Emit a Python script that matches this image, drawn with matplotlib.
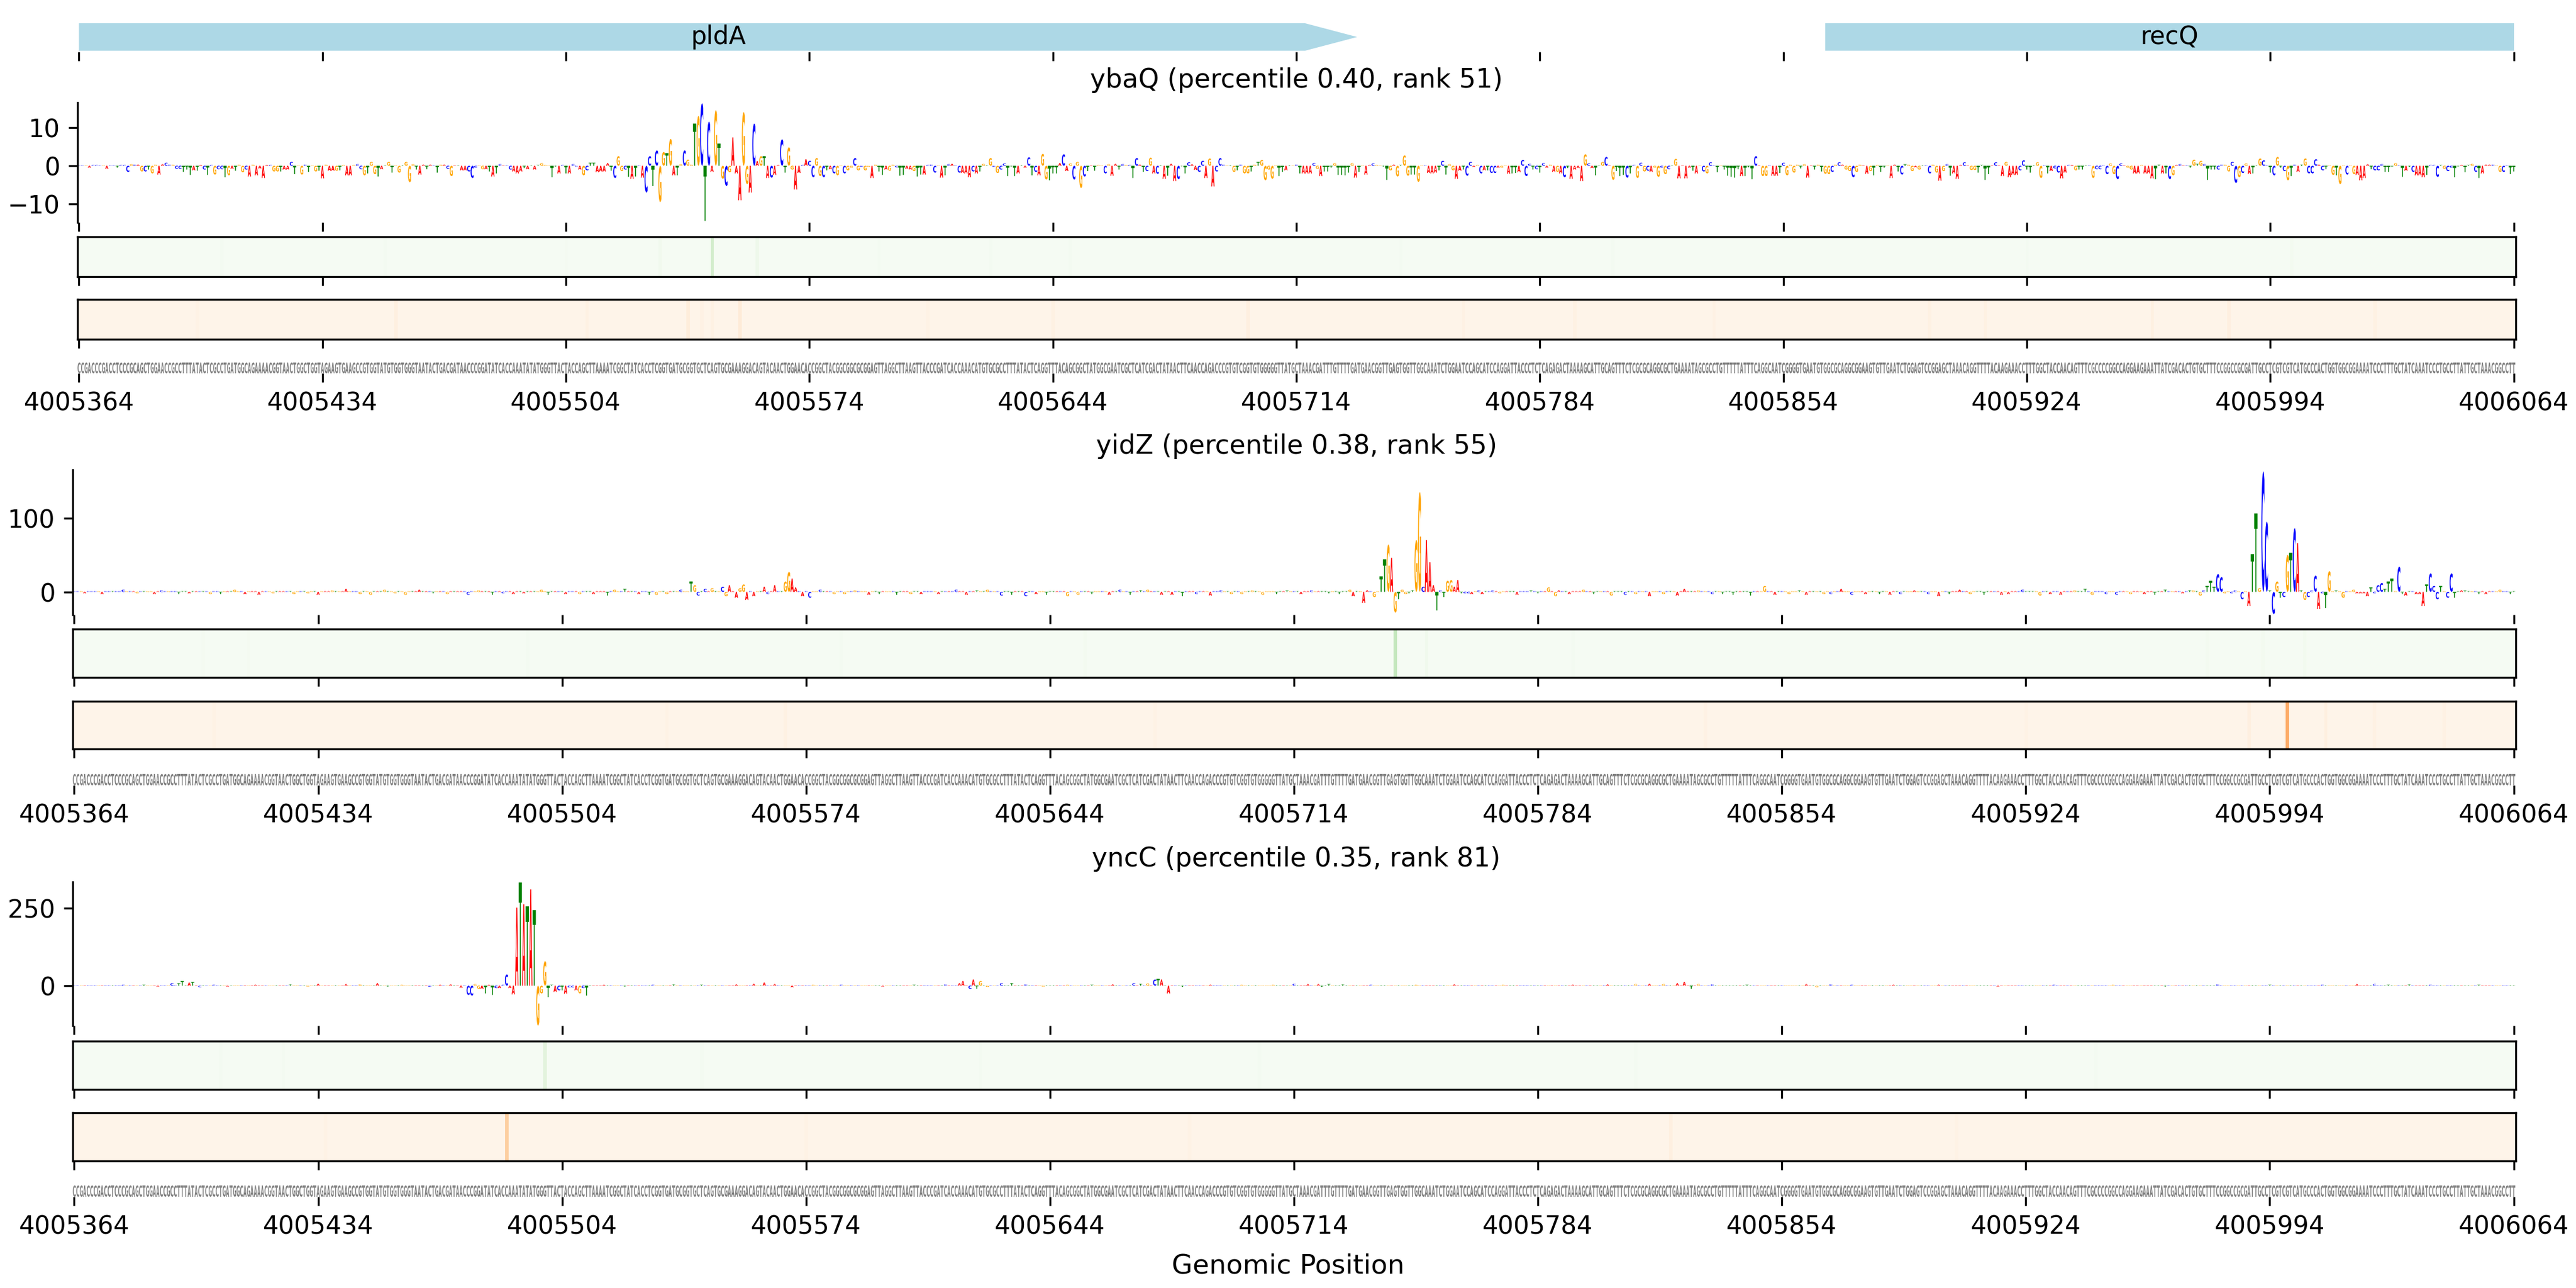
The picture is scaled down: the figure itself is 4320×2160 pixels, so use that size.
import numpy as np
import matplotlib
matplotlib.use("Agg")
import matplotlib.pyplot as plt
from matplotlib.textpath import TextPath
from matplotlib.path import Path
from matplotlib.patches import PathPatch, Polygon, Rectangle
from matplotlib.font_manager import FontProperties

START = 4005364
tick_pos = [4005364, 4005434, 4005504, 4005574, 4005644, 4005714, 4005784, 4005854, 4005924, 4005994, 4006064]
titles = ["ybaQ (percentile 0.40, rank 51)", "yidZ (percentile 0.38, rank 55)", "yncC (percentile 0.35, rank 81)"]

sequence = "".join([
    "CCGACCCGACCTCCCGCAGCTGGAACCGCCTTTATACTCGCCTGATGGCAGAAAACGGTAACTGGCTGGTAGAAGTGAAGCCGTGGTATGTGGTGGGTAATACTGACGATAACCCGGATATCACCAAATATATGGGTTACTACCAGCTTA",
    "AAATCGGCTATCACCTCGGTGATGCGGTGCTCAGTGCGAAAGGACAGTACAACTGGAACACCGGCTACGGCGGCGCGGAGTTAGGCTTAAGTTA",
    "CCCGATCACCAAACATGTGCGCCTTTATACTCAGGTTTACAGCGGCTATGGCGAATCGCTCATCGACTATAACTTCAACCAGACCCGTGTCGGT",
    "GTGGGGGTTATGCTAAACGATTTGTTTTGATGAACGGTTGAGTGGTTGGCAAATCTGGAATCCAGCATCCAGGATTACCCTCTCAGAGACTAAA",
    "AGCATTGCAGTTTCTCGCGCAGGCGCTGAAAATAGCGCCTGTTTTTATTTCAGGCAATCGGGGTGAATGTGGCGCAGGCGGAAGTGTTGAATCT",
    "GGAGTCCGGAGCTAAACAGGTTTTACAAGAAACCTTTGGCTACCAACAGTTTCGCCCCGGCCAGGAAGAAATTATCGACACTGTGCTT",
    "TCCGGCCGCGATTGCCTCGTCGTCATGCCCACTGGTGGCGGAAAATCCCTTTGCTATCAAATCCCTGCCTTATTGCTAAACGGCCTT",
])

ybaQ_scores = [
 .1,.1,.1,-.5,.2,.2,.1,.1,-.8,.1,
 .1,-.5,.2,.2,-1.6,.4,.3,.3,-1.5,-1.5,
 -1,-2,.3,-2.3,.4,.8,.3,.3,-.8,-.8,
 -1.6,-1,-2.4,-1.2,-1.3,.2,-1,-2.4,.2,-2.3,
 -.9,-.9,-3,-2.5,-.8,-1.3,.3,-1.7,-1,-2.8,
 .3,-2.5,-.7,-3.2,.2,.2,-1.5,-1.5,-1.5,-1,
 -1,1,-2.2,.1,-2.3,.3,-1.6,.1,-1.5,-1.3,
 -3.3,.3,-1.3,-1.3,-1.3,-1.2,.2,-2.5,-2.5,.2,
 .4,-.9,-2.5,-2,1,-2.2,-2.8,-.9,.1,1,
 -1.8,.1,-1.8,.1,1,-4.3,.4,-1,-2.3,.3,
 -.9,.3,.1,-1.8,.3,.3,-.8,-2.7,.1,.1,
 -1.2,-1.2,-1.5,-3.2,-.5,.1,-.9,-.9,-1.5,-2.8,
 -2,.4,.1,.1,-1,-1.5,-2,-1.5,-.6,-.9,
 .1,-1,.2,.7,.2,.1,-3,-.2,-2,.2,
 -2,-2,.4,-.2,-1,-2.5,-1.2,.8,.8,-1.7,
 -1.5,-1.5,.7,-1.3,-3.2,2.5,-1.4,-1,-2.9,-3.4,
 -2.8,.1,-3.1,-7,2.5,-5.3,4,-9.5,3.6,3.3,
 7,-2.5,-2.5,.4,4,1.6,.3,11,13,16.3,
 -14.4,11.5,-1.6,14.5,5.8,-3.4,-5.3,-1.7,7.4,-2,
 -9,14,-4.8,-7,11,1.2,2.5,2.5,-3.2,-3.1,
 -2.4,.2,6.9,-1.8,4.8,-1,-6.2,-1.9,.2,1.7,
 1.3,-3,2,-2.7,-3,-1.2,-.9,-2,-2.5,.1,
 -2,-1.2,-.5,2,-1.2,-.3,-1.2,-.3,-3.2,.3,
 -1.5,-2.4,-1,-1.3,.3,-.4,-2.6,-2.4,-.8,-1,
 -1.4,-2.8,-2.3,-2.3,.2,.3,-1.8,.1,-3.1,-2.5,
 .4,.5,.1,-1.8,-1.9,-2,-3,-1.5,-2,-1.5,
 .5,.1,2,-.3,-1.9,-1,.6,-2.7,-.2,-2.7,
 -2,.1,-.5,2.2,-2.5,-1.6,-2.5,3.1,-3.6,-3.8,
 -2,-2,.7,3,-1.4,.6,-3.6,1,-5.8,-2.8,
 -1.4,.1,-1.3,.2,.1,-2,.4,-2.6,.5,-1,
 .4,.2,.2,-3.2,2,.3,-1.6,-1.4,2.1,-2,
 -2.1,.1,-3.4,-2.6,.5,-4,-3.5,-.1,-2,.9,
 .4,-1.1,-1.6,1.3,-3.2,1.9,-5.4,-1.5,2,.3,
 .1,.1,-1.6,-1.2,.3,-2,-2,-1.5,.3,1,
 1.5,-3.8,-1,-3.4,.1,-2.7,-1.6,-1.2,.1,.1,
 .3,-2,-2,-2,-2,.7,-.8,-2.7,-1.5,-1.5,
 -.5,.7,-2.4,-2.4,-2.5,-1.8,.7,-3.1,-1.6,.1,
 -2.3,.2,.6,.2,.1,-.2,-3.7,-1.2,.3,-2.8,
 .2,2.7,-2.6,-2.3,-2.3,-4.2,.1,.1,-1.9,-2,
 -1.8,-1.2,1.3,-2.3,.4,-1.2,-3.4,-1.3,-1,-2.6,
 1,-.3,.2,-2,-1.2,-1.2,-1.9,-1.9,-.5,-.5,
 .1,-2.1,-2,-1.9,-1.7,1.5,-2.7,.5,-1,-.9,
 -1.8,.7,-.5,.3,-1.6,-1.6,-2,-3,-.6,-3.4,
 -1,-.6,-4,3,.6,-.6,-2.5,.1,1,2.3,
 .1,-3.7,-1.4,-2.7,-2.4,-3.1,-2,.2,-3.2,.8,
 -1.5,-1.3,-1.6,-.5,-2.9,-.5,-2.2,-.9,.1,1.8,
 -3.3,.1,-3.3,-.5,-1.3,-2,.1,-1.5,-2,.9,
 .1,-1.7,.1,-1,-2.6,-2.9,-3.1,-.9,-2.7,-2.7,
 -.4,-3.5,2.5,.1,-2.7,-2.7,.1,-2.6,-2.6,-1.9,
 .8,-2.5,.3,-1.8,.3,-.7,.4,-3.1,.1,-1,
 .3,-1.5,-2.1,-2.2,-1.6,.3,.9,.3,-1,-1.4,
 -3,-1.6,.3,.1,-2.1,-1.4,-2.5,.2,-1.6,-.5,
 .1,-3.2,.3,-1.5,-2.3,.4,.3,-1.4,-.4,-1,
 .1,.1,-2,.3,-1.8,-3.9,-1.4,.4,-2.6,-2,
 -3.4,.2,.9,.1,-1.1,-1.1,-1.8,.2,-3.7,-2.2,
 .1,.9,.1,-2.7,1,-3,-2.4,-2.4,-1.2,1.4,
 -1,-1.8,.1,.9,-3.2,.1,-2,-1.4,-.7,-1.8,
 -3.3,-1.8,.2,.2,-1.2,-1,-1,.1,.1,-3.2,
 -.9,-.9,.1,-2.2,.6,-2.2,-3.5,.6,.1,-.5,
 -1,-2,-2,.2,-2,-2,-3.3,-3.5,.3,-2,
 -2,-3.5,-2.5,.2,.4,.1,.1,-.5,1.6,.5,
 1.3,.4,-3.7,-1,-1,-1,.3,.3,-1.5,1,
 -4.5,-3,-1.9,.6,-2.2,-2,.1,1.9,1.4,.1,
 -1.8,-2.5,2.3,-.5,-1.4,-3.8,-2.7,.3,-1.6,.3,
 1.9,-2,-2,1.7,.3,-1.2,-.9,.1,-2.4,-2.5,
 -4.8,.1,-2.3,.1,-2.2,-2.4,-3.8,-3.2,.4,-.9,
 -1.2,-1.2,.4,-1.6,-1.6,-.3,.7,.1,-2.9,-1.3,
 -.3,-1.6,-2.5,-2.5,-3,-2.4,.2,.2,-2.9,.2,
 -.8,-1.4,-.5,-3,-.2,.2,-1.7,.2,.5,-1.6,
 -3.2,-2,.3,.3,.3,.1,-1.6,-1.6,.1,-2.2,-1.5,
]

# Sparse readings: position offset -> score; smaller positions are below what can be read.
yidZ_scores = {
 3:-2,8:-3,14:3,18:-2,23:-3,25:2,30:-3,33:-2,39:-3,42:-3,46:3,49:-3,53:-4,57:-2,63:-3,67:-2,70:-4,74:2,
 78:4,82:-3,85:-4,89:3,92:-2,95:-4,99:3,103:-2,107:-3,113:-4,116:2,120:-4,123:-2,126:-3,129:-2,134:3,136:-4,
 141:-3,145:-3,149:-3,153:-5,155:3,158:4,162:-3,165:-4,167:-4,170:-3,174:3,
 177:14,178:9,179:-5,181:4,183:5,186:7,187:-6,188:9,190:-8,191:5,192:10,193:-11,195:-6,
 198:7,199:-3,201:9,204:14,205:27,206:18,207:6,209:-6,211:-8,214:3,218:-3,221:-3,224:2,228:-4,231:-3,236:-4,
 240:-3,243:-3,248:-3,253:3,256:-4,259:2,262:3,266:-5,269:-4,273:-6,276:-3,279:-4,285:-6,288:-4,292:-3,297:-4,
 300:3,303:-4,306:2,308:3,312:-4,315:-4,318:-6,322:-3,326:-5,329:2,332:-3,335:-3,338:2,341:-4,345:-3,348:2,352:-3,
 355:2,360:-2,363:-3,366:3,367:-6,368:1,370:-15,371:2,373:-7,
 375:21,376:44,377:64,378:46,379:-28,380:-10,381:3,382:-3,383:-2,384:2,
 385:70,386:135,387:7,388:70,389:40,390:9,391:-25,392:2,393:-7,394:15,395:16,396:7,397:16,
 398:-2,399:-2,400:-2,401:-3,403:2,404:-3,407:2,409:-2,414:-4,418:2,420:-2,423:6,425:-6,426:2,429:-3,
 433:3,436:-3,441:-5,445:-4,448:-3,452:-6,456:-3,460:-5,462:4,466:2,470:-3,473:-3,476:-4,481:-5,485:8,488:-4,492:-3,
 495:2,497:-4,502:-3,504:-3,507:4,510:-4,514:-3,518:-3,521:-4,524:-3,528:2,532:-3,535:-6,538:-3,541:3,544:-3,
 548:-4,553:-4,555:-3,559:3,564:-5,567:-3,570:-4,574:2,577:4,579:-4,583:-3,586:-4,590:-3,594:-3,597:-4,600:3,
 605:-2,607:2,608:2,610:-5,611:2,612:8,613:15,614:7,615:24,616:20,617:-2,619:-2,620:2,622:-10,624:-19,
 625:51,626:106,627:5,628:163,629:95,630:2,631:-30,632:14,633:-8,634:-7,635:50,636:53,637:86,638:66,639:2,
 640:-11,641:-7,642:2,643:22,644:-23,645:-2,646:-22,647:28,649:2,651:-8,654:3,655:-2,656:-2,657:-2,658:-6,
 659:6,660:-2,661:9,662:12,663:4,664:14,665:18,667:34,668:-3,669:-5,672:-3,673:-3,674:-19,
 675:10,676:25,677:8,678:-10,679:8,681:-8,682:25,683:-8,685:2,686:2,690:-3,692:-3,696:3,699:-3,
}
yncC_scores = {
 14:3,20:3,24:-3,28:8,30:8,31:15,33:10,34:12,36:-5,40:3,44:-3,52:3,62:4,67:-3,70:6,78:5,82:4,87:8,90:-3,94:3,
 102:-4,105:3,108:4,111:-7,113:-30,114:-32,115:5,116:-10,117:-10,118:-25,119:3,120:-30,121:-8,122:-8,123:3,
 124:36,125:-8,126:-28,127:252,128:333,129:263,130:256,131:311,132:244,133:-129,134:-25,135:79,136:-37,
 137:3,138:-20,139:-15,140:-15,141:-26,142:-6,143:-6,144:-15,145:-25,146:-8,147:-32,
 152:3,158:-3,166:3,172:4,180:3,190:4,195:6,198:10,201:5,206:-5,212:3,220:3,232:-3,241:3,
 250:4,254:8,255:15,257:-10,258:20,259:-10,260:15,262:-4,266:8,269:8,273:4,278:-3,285:3,292:3,
 298:4,304:8,306:6,308:7,310:20,311:22,312:20,314:-25,318:-4,
 326:3,335:3,344:3,350:6,354:5,357:5,358:-4,360:5,364:4,372:3,385:3,396:4,410:3,
 430:3,440:4,448:5,452:6,456:5,460:8,462:12,464:-10,466:5,470:4,480:3,
 497:5,500:-5,504:4,510:3,522:3,535:3,552:-3,568:3,585:3,600:-3,615:4,630:3,
 645:3,655:5,660:5,664:3,670:4,676:3,690:3,
}

green_ybaQ = {167:.04,182:.2,195:.06,41:.025,88:.025,140:.02,230:.025,262:.025,285:.025,380:.025,441:.025,560:.025,636:.03}
orange_ybaQ = {34:.025,91:.045,146:.035,175:.07,179:.03,182:.035,190:.08,244:.025,280:.035,336:.05,398:.03,430:.035,470:.03,532:.035,548:.035,596:.04,618:.05,660:.035}
green_yidZ = {37:.02,50:.02,130:.025,220:.025,290:.03,379:.26,388:.05,430:.025,612:.03,628:.03,640:.035}
orange_yidZ = {40:.025,170:.025,204:.035,310:.025,468:.03,560:.025,624:.045,635:.38,646:.045,660:.03,680:.03}
green_yncC = {42:.025,60:.025,135:.14,180:.025,260:.025,340:.025,448:.025,580:.025}
orange_yncC = {124:.25,72:.025,210:.025,320:.025,458:.05,540:.025}

genes = [("pldA", 4005364, 4005731.5, True), ("recQ", 4005866, 4006064, False)]

BG_GREEN = 0.01
BG_ORANGE = 0.01

base_colors = {"A": "red", "C": "blue", "G": "orange", "T": "green"}
fp = FontProperties(family="DejaVu Sans", weight="bold")
unit = {}
for ch in "ACGT":
    tp = TextPath((0, 0), ch, size=1, prop=fp)
    v = tp.vertices.copy()
    mn, mx = v[:, 0].min(), v[:, 0].max()
    ymn, ymx = v[:, 1].min(), v[:, 1].max()
    v[:, 0] = (v[:, 0] - mn) / (mx - mn)
    v[:, 1] = (v[:, 1] - ymn) / (ymx - ymn)
    unit[ch] = (v, tp.codes.copy())


def draw_logo(ax, scores, floor, colors=None, width=0.94):
    buckets = {}
    for i, ch in enumerate(sequence):
        s = scores[i]
        if abs(s) < floor:
            s = floor
        lo, hi = (0, s) if s >= 0 else (s, 0)
        v, c = unit[ch]
        verts = v.copy()
        verts[:, 0] = START + i - width / 2 + verts[:, 0] * width
        verts[:, 1] = lo + verts[:, 1] * (hi - lo)
        buckets.setdefault(ch, []).append(Path(verts, c))
    for ch, paths in buckets.items():
        col = colors if colors else base_colors[ch]
        ax.add_patch(PathPatch(Path.make_compound_path(*paths), facecolor=col, edgecolor="none", lw=0))


W, H = 4320, 2160
fig = plt.figure(figsize=(14.4, 7.2), dpi=300)


def axpx(x0, x1, top, bot):
    return fig.add_axes([x0 / W, 1 - bot / H, (x1 - x0) / W, (bot - top) / H])


def xcfg(ax, labels=False):
    ax.set_xlim(START - 0.5, START + 700.5)
    ax.set_xticks(tick_pos)
    ax.set_xticklabels([str(t) for t in tick_pos] if labels else [])


def dense(sparse):
    arr = np.zeros(len(sequence))
    for k, val in sparse.items():
        arr[k] = val
    return arr


def heat(ax, sparse, cmap, bg):
    arr = np.full(len(sequence), bg)
    for k, val in sparse.items():
        arr[k] = val
    ax.imshow(arr[None, :], aspect="auto", cmap=cmap, vmin=0, vmax=1,
              extent=[START - 0.5, START + 700.5, 0, 1], interpolation="nearest")
    ax.set_yticks([])
    xcfg(ax)


def seq_strip(ax):
    draw_logo(ax, np.ones(len(sequence)), 0, colors="gray", width=0.92)
    ax.set_ylim(0, 1)
    ax.set_yticks([])
    for s in ax.spines.values():
        s.set_visible(False)
    xcfg(ax, labels=True)


# gene track
gax = axpx(129.5, 4218.5, 39, 87)
gax.set_ylim(0, 1)
for name, a, b, arrow in genes:
    if arrow:
        head = 15
        gax.add_patch(Polygon([[a, .04], [b - head, .04], [b, .52], [b - head, 1], [a, 1]],
                              facecolor="lightblue", edgecolor="none"))
    else:
        gax.add_patch(Rectangle((a, .04), b - a, .96, facecolor="lightblue", edgecolor="none"))
    gax.text((a + b) / 2, .52, name, ha="center", va="center", fontsize=10)
gax.set_yticks([])
for s in gax.spines.values():
    s.set_visible(False)
xcfg(gax)

panels = [
    dict(x0=129.5, logo=(172, 373), ylim=(-14.8, 16.5), yt=[-10, 0, 10], green=(397, 464), orange=(502, 569),
         seq=(608, 626), scores=ybaQ_scores, floor=.1, g=green_ybaQ, o=orange_ybaQ, ty=134),
    dict(x0=121.5, logo=(788, 1031), ylim=(-31, 165), yt=[0, 100], green=(1055, 1136), orange=(1176, 1256),
         seq=(1298, 1317), scores=dense(yidZ_scores), floor=.9, g=green_yidZ, o=orange_yidZ, ty=749),
    dict(x0=121.5, logo=(1479, 1720), ylim=(-129, 335), yt=[0, 250], green=(1746, 1827), orange=(1866, 1947),
         seq=(1988, 2007), scores=dense(yncC_scores), floor=1.2, g=green_yncC, o=orange_yncC, ty=1440),
]

for p, title in zip(panels, titles):
    x0, x1 = p["x0"], 4218.5
    ax = axpx(x0, x1, *p["logo"])
    draw_logo(ax, p["scores"], p["floor"])
    ax.set_ylim(*p["ylim"])
    ax.set_yticks(p["yt"])
    for s in ("top", "right", "bottom"):
        ax.spines[s].set_visible(False)
    xcfg(ax)
    heat(axpx(x0, x1, *p["green"]), p["g"], "Greens", BG_GREEN)
    heat(axpx(x0, x1, *p["orange"]), p["o"], "Oranges", BG_ORANGE)
    seq_strip(axpx(x0, x1, *p["seq"]))
    fig.text(2174 / W, 1 - p["ty"] / H, title, ha="center", va="center", fontsize=10.55)

fig.text(2160 / W, 1 - 2123 / H, "Genomic Position", ha="center", va="center", fontsize=10.85)
fig.savefig("out.png", dpi=300)
